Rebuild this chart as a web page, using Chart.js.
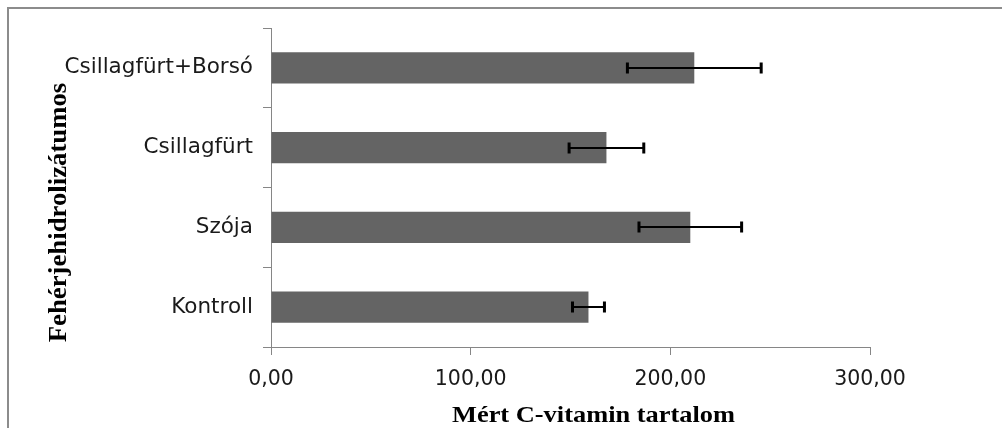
<!DOCTYPE html>
<html>
<head>
<meta charset="utf-8">
<script src="https://cdn.jsdelivr.net/npm/chart.js@4/dist/chart.umd.min.js"></script>
<style>
  html, body { margin: 0; padding: 0; background: #fff; overflow: hidden; }
  #chart { display: block; }
</style>
</head>
<body>
<canvas id="chart" width="1002" height="428"></canvas>
<script>
// Protein hydrolysate treatments, listed top to bottom
const categories = ['Csillagfürt+Borsó', 'Csillagfürt', 'Szója', 'Kontroll'];
// Measured vitamin C content per treatment
const vitaminC = [212, 168, 210, 159];
// Standard deviation shown as error bars
const vitaminCErr = [33.5, 18.7, 25.7, 8];
// Value axis tick positions
const xTickValues = [0, 100, 200, 300];

const xTitle = 'Mért C-vitamin tartalom';
const yTitle = 'Fehérjehidrolizátumos';

const axisGrey = '#868686';
const labelColor = '#1a1a1a';

// White background and the outer frame
const framePlugin = {
  id: 'frame',
  beforeDraw(chart) {
    const ctx = chart.ctx;
    ctx.save();
    ctx.fillStyle = '#ffffff';
    ctx.fillRect(0, 0, chart.width, chart.height);
    ctx.strokeStyle = '#8c8c8c';
    ctx.lineWidth = 2;
    ctx.strokeRect(8, 8, chart.width + 50, chart.height + 50);
    ctx.restore();
  }
};

// Horizontal error bars with end caps, centred on each bar
const errorBarPlugin = {
  id: 'errorBars',
  afterDatasetsDraw(chart) {
    const ctx = chart.ctx;
    const xs = chart.scales.x;
    const meta = chart.getDatasetMeta(0);
    ctx.save();
    ctx.strokeStyle = '#000000';
    ctx.fillStyle = '#000000';
    meta.data.forEach((bar, i) => {
      const v = vitaminC[i];
      const e = vitaminCErr[i];
      const x0 = xs.getPixelForValue(v - e);
      const x1 = xs.getPixelForValue(v + e);
      const y = Math.round(bar.y);
      ctx.lineWidth = 2;
      ctx.beginPath();
      ctx.moveTo(x0, y);
      ctx.lineTo(x1, y);
      ctx.stroke();
      ctx.fillRect(x0 - 1.5, y - 5.5, 3, 11);
      ctx.fillRect(x1 - 1.5, y - 5.5, 3, 11);
    });
    ctx.restore();
  }
};

// Bold serif axis titles, slightly widened along the text direction
const axisTitlePlugin = {
  id: 'axisTitles',
  afterDraw(chart) {
    const ctx = chart.ctx;
    const area = chart.chartArea;
    ctx.save();
    ctx.fillStyle = '#000000';
    ctx.textAlign = 'center';
    ctx.textBaseline = 'alphabetic';

    // value axis title
    ctx.font = 'bold 24px "Liberation Serif"';
    ctx.save();
    ctx.translate((area.left + area.right) / 2 + 23, chart.height - 6);
    ctx.scale(1.1, 1);
    ctx.fillText(xTitle, 0, 0);
    ctx.restore();

    // category axis title
    ctx.font = 'bold 25px "Liberation Serif"';
    ctx.save();
    ctx.translate(66, (area.top + area.bottom) / 2 + 25);
    ctx.rotate(-Math.PI / 2);
    ctx.scale(1.07, 1);
    ctx.fillText(yTitle, 0, 0);
    ctx.restore();

    ctx.restore();
  }
};

new Chart(document.getElementById('chart'), {
  type: 'bar',
  data: {
    labels: categories,
    datasets: [{
      data: vitaminC,
      backgroundColor: '#646464',
      borderWidth: 0,
      barPercentage: 0.39,
      categoryPercentage: 1
    }]
  },
  options: {
    indexAxis: 'y',
    responsive: false,
    animation: false,
    devicePixelRatio: 1,
    layout: { padding: { top: 28, right: 132, bottom: 0, left: 0 } },
    plugins: {
      legend: { display: false },
      tooltip: { enabled: false }
    },
    scales: {
      x: {
        min: 0,
        max: 300,
        afterBuildTicks(scale) {
          scale.ticks = xTickValues.map(v => ({ value: v }));
        },
        afterFit(scale) { scale.height = 81; },
        grid: { drawOnChartArea: false, tickLength: 8, color: axisGrey },
        border: { color: axisGrey },
        ticks: {
          font: { family: 'DejaVu Sans', size: 20.5 },
          color: labelColor,
          padding: 12,
          maxRotation: 0,
          callback: v => Number(v).toFixed(2).replace('.', ',')
        }
      },
      y: {
        afterFit(scale) { scale.width = 271; },
        grid: { drawOnChartArea: false, tickLength: 8, color: axisGrey, offset: true },
        border: { color: axisGrey },
        ticks: {
          font: { family: 'DejaVu Sans', size: 21.5 },
          color: labelColor,
          padding: 10
        }
      }
    }
  },
  plugins: [framePlugin, errorBarPlugin, axisTitlePlugin]
});
</script>
</body>
</html>
